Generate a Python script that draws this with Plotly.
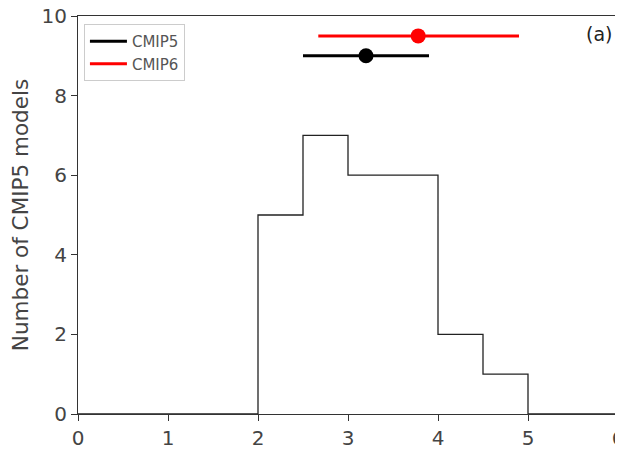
import plotly.graph_objects as go

# Histogram of CMIP5 models
bin_edges = [2.0, 2.5, 3.0, 3.5, 4.0, 4.5, 5.0]
counts = [5, 7, 6, 6, 2, 1]

# Ensemble ranges (mean, low, high) and plotting height
series_names = ["CMIP5", "CMIP6"]
series_colors = ["black", "red"]
means = [3.2, 3.78]
lows = [2.5, 2.67]
highs = [3.9, 4.9]
heights = [9.0, 9.5]

x_ticks = [0, 1, 2, 3, 4, 5, 6]
y_ticks = [0, 2, 4, 6, 8, 10]

FONT = "DejaVu Sans"
TXT = "#444444"

fig = go.Figure()

# step outline
step_x = [0] + bin_edges + [6]
step_y = [0] + counts + [0, 0]
fig.add_trace(go.Scatter(x=step_x, y=step_y, mode="lines", line_shape="hv",
                         line=dict(color="#222222", width=1.3), showlegend=False,
                         hoverinfo="skip"))

for name, col, m, lo, hi, h in zip(series_names, series_colors, means, lows, highs, heights):
    fig.add_trace(go.Scatter(x=[lo, hi], y=[h, h], mode="lines",
                             line=dict(color=col, width=3), showlegend=False))
    fig.add_trace(go.Scatter(x=[m], y=[h], mode="markers",
                             marker=dict(color=col, size=15), showlegend=False))
    fig.add_trace(go.Scatter(x=[None], y=[None], mode="lines", name=name,
                             line=dict(color=col, width=3)))

fig.add_annotation(x=1, y=1, xref="paper", yref="paper", text="(a)",
                   showarrow=False, xanchor="right", yanchor="top",
                   xshift=-4, yshift=-5, font=dict(family=FONT, size=19, color="#222222"))

axis_common = dict(showline=True, linecolor="#333333", linewidth=1.2, mirror=True,
                   ticks="outside", ticklen=6, tickcolor="#333333", showgrid=False,
                   zeroline=False, ticklabeloverflow="allow", automargin=False,
                   tickfont=dict(family=FONT, size=20, color=TXT))

fig.update_xaxes(range=[0, 6], tickvals=x_ticks, **axis_common)
fig.update_yaxes(range=[0, 10], tickvals=y_ticks,
                 title=dict(text="Number of CMIP5 models",
                            font=dict(family=FONT, size=21.5, color=TXT), standoff=22),
                 **axis_common)

# page body has an 8px margin, so the figure is sized to fill the rest of the window
fig.update_layout(
    width=615, height=441,
    margin=dict(l=70, r=5, t=8, b=35),
    paper_bgcolor="white", plot_bgcolor="white",
    legend=dict(x=0.011, y=0.98, xanchor="left", yanchor="top",
                bgcolor="white", bordercolor="#cccccc", borderwidth=1,
                font=dict(family=FONT, size=15, color="#555555"),
                itemwidth=37, tracegroupgap=0),
    showlegend=True,
)

fig.write_html("out.html")
